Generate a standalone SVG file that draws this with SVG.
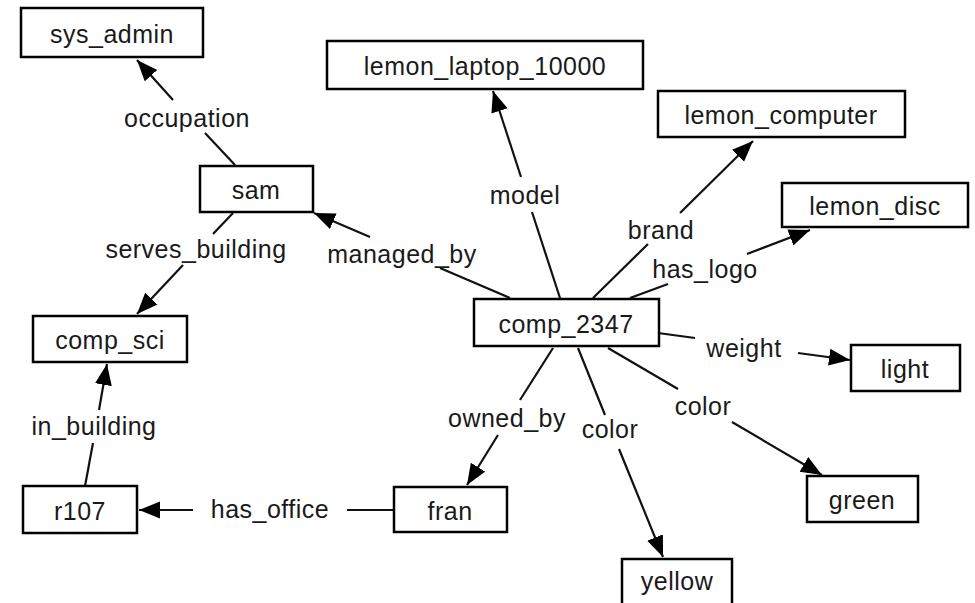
<svg xmlns="http://www.w3.org/2000/svg" width="975" height="603" viewBox="0 0 975 603">
<style>
.n rect{fill:#fff;stroke:#000;stroke-width:2.5}
text{font-family:"Liberation Sans",Arial,sans-serif;font-size:25px;letter-spacing:0.5px;fill:#1a1a1a;text-anchor:middle}
.e path{fill:none;stroke:#111;stroke-width:2.2}
</style>
<defs>
<marker id="ah" markerUnits="userSpaceOnUse" markerWidth="24" markerHeight="18" refX="21" refY="8.5" orient="auto">
<path d="M0,0 L21,8.5 L0,17 z" fill="#000"/>
</marker>
</defs>
<rect width="975" height="603" fill="#fff"/>
<g class="e" id="edges">
<path d="M235,165 L205,133"/><path d="M173,100 L137,60" marker-end="url(#ah)"/>
<path d="M510,298 L440,268"/><path d="M370,237 L314,213" marker-end="url(#ah)"/>
<path d="M560,298 L532,212"/><path d="M521,177 L493,91" marker-end="url(#ah)"/>
<path d="M593,298 L648,244"/><path d="M680,213 L753,141" marker-end="url(#ah)"/>
<path d="M630,298 L668,284"/><path d="M747,254 L810,230" marker-end="url(#ah)"/>
<path d="M658,333 L695,338"/><path d="M798,353 L850,360" marker-end="url(#ah)"/>
<path d="M608,348 L678,389"/><path d="M732,422 L822,475" marker-end="url(#ah)"/>
<path d="M578,348 L605,415"/><path d="M619,449 L663,557" marker-end="url(#ah)"/>
<path d="M553,348 L520,400"/><path d="M498,435 L467,485" marker-end="url(#ah)"/>
<path d="M394,510 L347,510"/><path d="M193,510 L139,510" marker-end="url(#ah)"/>
<path d="M85,486 L93,443"/><path d="M99,410 L107,364" marker-end="url(#ah)"/>
<path d="M233,213 L213,234"/><path d="M183,265 L137,314" marker-end="url(#ah)"/>
</g>
<g id="edge-labels">
<text x="187" y="127">occupation</text>
<text x="402" y="263">managed_by</text>
<text x="525" y="204">model</text>
<text x="661" y="239">brand</text>
<text x="705" y="278">has_logo</text>
<text x="744" y="357">weight</text>
<text x="703" y="415">color</text>
<text x="610" y="438">color</text>
<text x="507" y="427">owned_by</text>
<text x="270" y="518">has_office</text>
<text x="94" y="435">in_building</text>
<text x="196" y="258">serves_building</text>
</g>
<g class="n" id="sys_admin"><rect x="21" y="8" width="182" height="49"/><text x="112" y="43">sys_admin</text></g>
<g class="n" id="sam"><rect x="200" y="166" width="113" height="46"/><text x="256" y="199">sam</text></g>
<g class="n" id="lemon_laptop_10000"><rect x="327" y="41" width="316" height="48"/><text x="485" y="75">lemon_laptop_10000</text></g>
<g class="n" id="lemon_computer"><rect x="658" y="91" width="247" height="46"/><text x="781" y="124">lemon_computer</text></g>
<g class="n" id="lemon_disc"><rect x="782" y="183" width="186" height="44"/><text x="875" y="215">lemon_disc</text></g>
<g class="n" id="comp_2347"><rect x="474" y="299" width="185" height="47"/><text x="566" y="333">comp_2347</text></g>
<g class="n" id="light"><rect x="851" y="345" width="109" height="46"/><text x="905" y="378">light</text></g>
<g class="n" id="green"><rect x="807" y="476" width="111" height="46"/><text x="862" y="509">green</text></g>
<g class="n" id="comp_sci"><rect x="33" y="316" width="154" height="46"/><text x="110" y="349">comp_sci</text></g>
<g class="n" id="r107"><rect x="23" y="486" width="114" height="47"/><text x="80" y="520">r107</text></g>
<g class="n" id="fran"><rect x="394" y="487" width="113" height="45"/><text x="450" y="520">fran</text></g>
<g class="n" id="yellow"><rect x="622" y="559" width="110" height="50"/><text x="677" y="590">yellow</text></g>
</svg>
